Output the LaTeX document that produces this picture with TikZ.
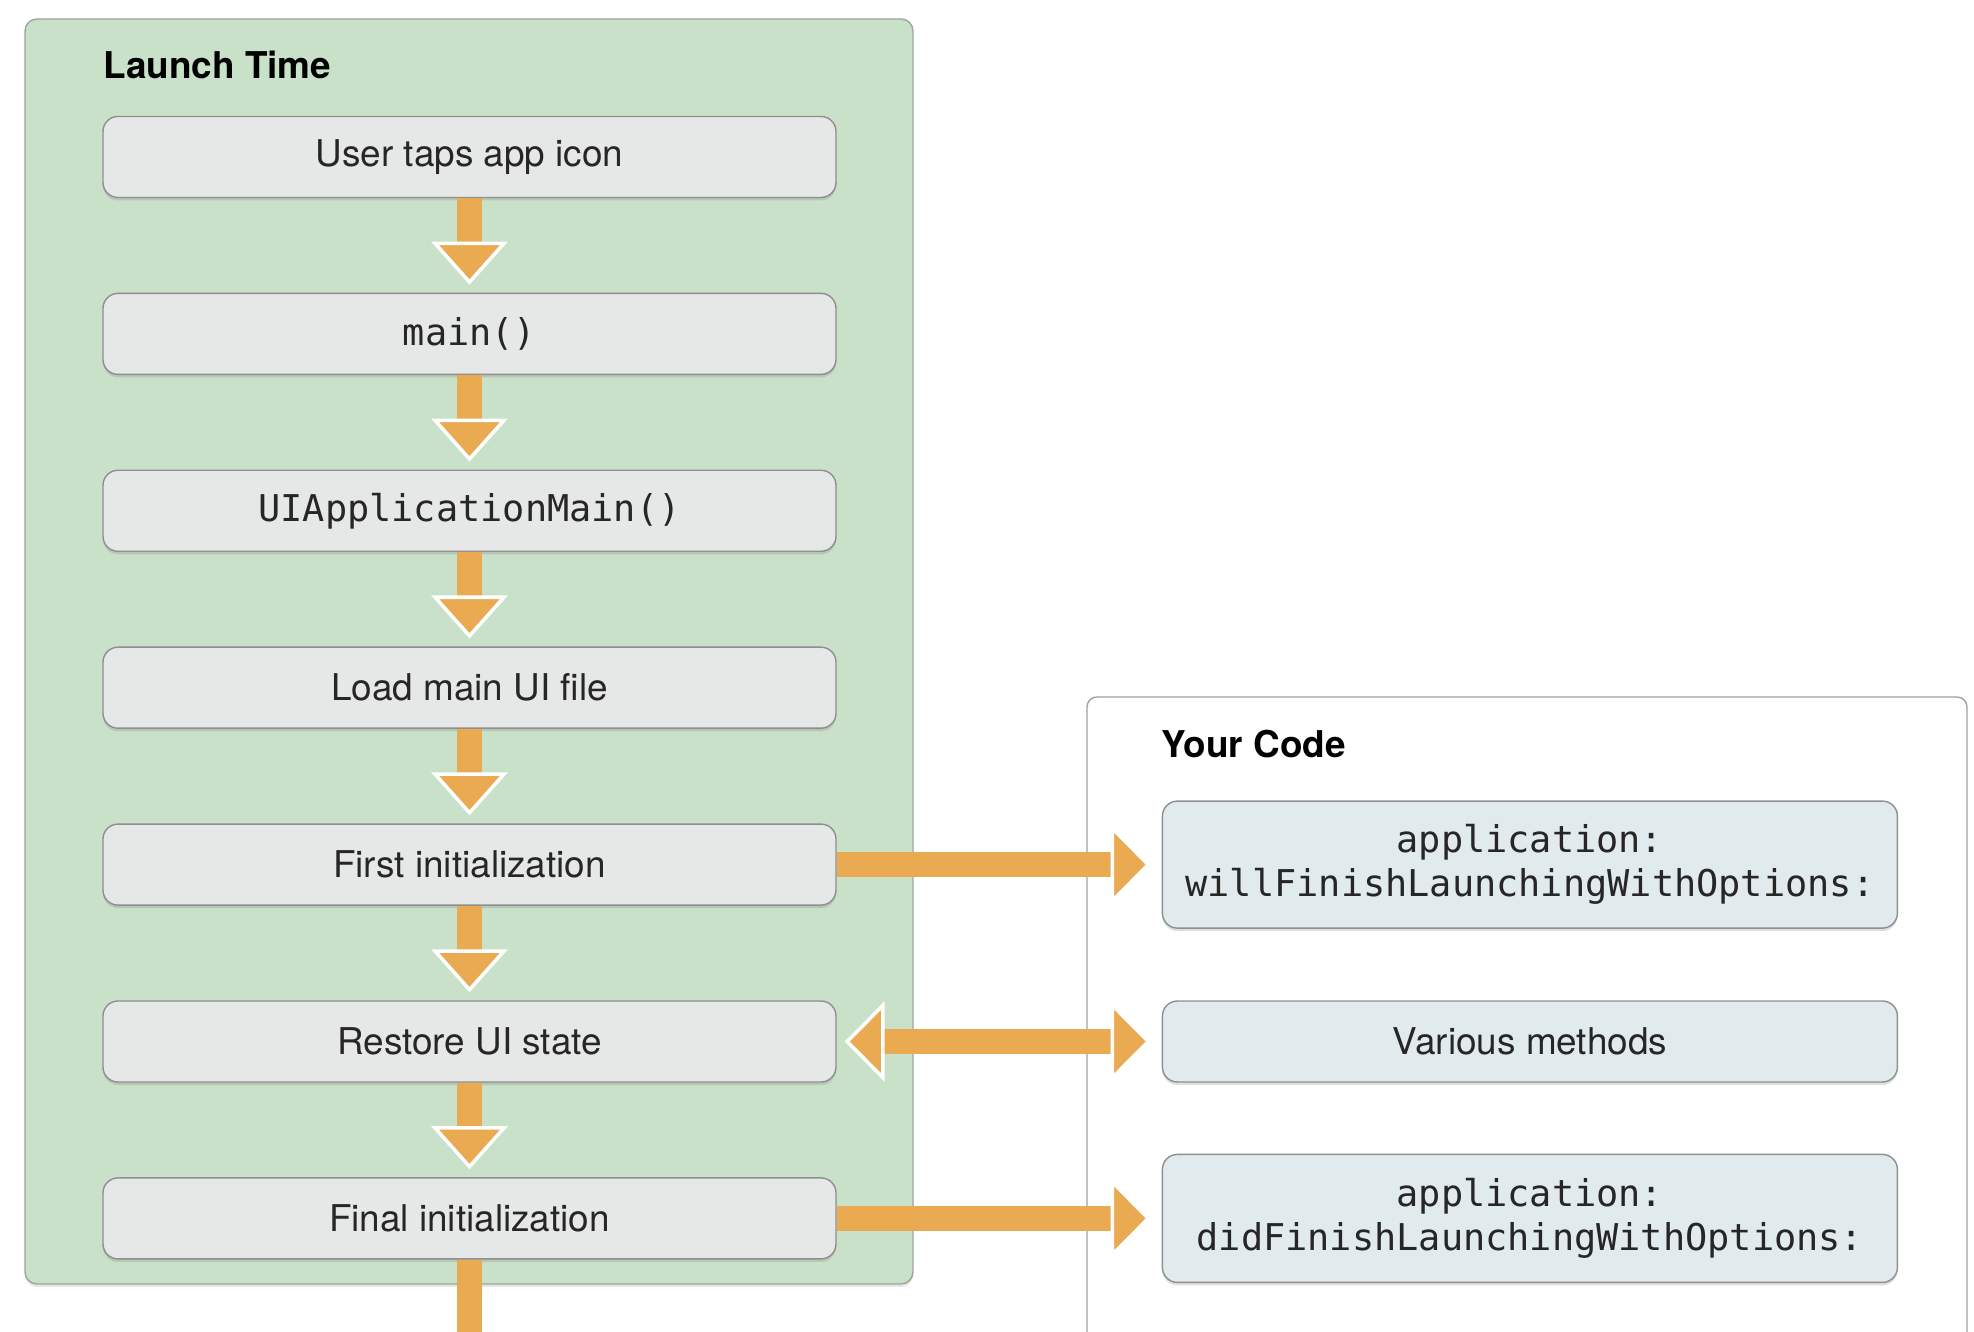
\documentclass[tikz,border=0pt]{standalone}
\usepackage{fontspec}
\setmainfont{TeX Gyre Heros}
\newfontfamily\codefont{DejaVu Sans Mono}
\usetikzlibrary{arrows.meta,positioning,shadows}
\definecolor{launchgreen}{HTML}{C8E1C8}
\definecolor{greenedge}{HTML}{9AA79A}
\definecolor{stepgray}{HTML}{E6E7E7}
\definecolor{codeblue}{HTML}{E1EAEC}
\definecolor{edgegray}{HTML}{8F8F8F}
\definecolor{panelgray}{HTML}{A0A0A0}
\definecolor{flowc}{HTML}{EAAA52}
\tikzset{
	stepbox/.style={draw=edgegray, fill=stepgray, rounded corners=0.15cm,
		minimum width=7.33cm, minimum height=0.81cm, inner sep=0pt,
		text=black!85, font=\fontsize{10.5}{12.5}\selectfont,
		drop shadow={shadow xshift=0cm, shadow yshift=-0.03cm, opacity=0.25}},
	codebox/.style={stepbox, fill=codeblue, minimum width=7.35cm, align=center},
	monotext/.style={font=\codefont\fontsize{10.5}{12.5}\selectfont},
	title/.style={anchor=west, inner sep=0pt, font=\fontsize{10.5}{12.5}\selectfont\bfseries},
	flowhead/.tip={Triangle[width=0.76cm, length=0.43cm, color=white, fill=flowc, line width=1pt]},
	sidehead/.tip={Triangle[width=0.80cm, length=0.40cm, color=white, fill=flowc, line width=1pt]},
	flow/.style={draw=flowc, line width=0.25cm, -flowhead, shorten >=0.08cm},
	sideflow/.style={draw=flowc, line width=0.25cm, -sidehead, shorten >=0.11cm},
}
\begin{document}
\begin{tikzpicture}
		%%%%% FRAME %%%%%
		\useasboundingbox (0, 0) rectangle (19.74, 13.32);
		
		\draw[draw=greenedge, fill=launchgreen, rounded corners=0.12cm,
			drop shadow={shadow xshift=0cm, shadow yshift=-0.03cm, opacity=0.2}] (0.25, 0.48) rectangle (9.13, 13.13);
		\node[title] (launchlabel) at (1.03, 12.67) {Launch Time};
		
		\draw[draw=panelgray, rounded corners=0.1cm] (10.87, -0.3) -- (10.87, 6.35) -- (19.67, 6.35) -- (19.67, -0.3);
		\node[title] (codelabel) at (11.61, 5.88) {Your Code};
		
		%%%%% STEPS %%%%%
		\node[stepbox] (tap) at (4.695, 11.75) {User taps app icon};
		\node[stepbox, monotext, below=0.945cm of tap] (main) {main()};
		\node[stepbox, monotext, below=0.945cm of main] (uimain) {UIApplicationMain()};
		\node[stepbox, below=0.945cm of uimain] (loadui) {Load main UI file};
		\node[stepbox, below=0.945cm of loadui] (firstinit) {First initialization};
		\node[stepbox, below=0.945cm of firstinit] (restore) {Restore UI state};
		\node[stepbox, below=0.945cm of restore] (finalinit) {Final initialization};
		
		\node[codebox, monotext, minimum height=1.27cm, right=3.25cm of firstinit] (willfinish) {application:\\willFinishLaunchingWithOptions:};
		\node[codebox, right=3.25cm of restore] (various) {Various methods};
		\node[codebox, monotext, minimum height=1.28cm, right=3.25cm of finalinit] (didfinish) {application:\\didFinishLaunchingWithOptions:};
		
		%%%%% ARROWS %%%%%
		\foreach \a/\b in {tap/main, main/uimain, uimain/loadui, loadui/firstinit, firstinit/restore, restore/finalinit}
			\draw[flow] (\a) -- (\b);
		\coordinate (exit) at (finalinit.south |- 0, 0);
		\draw[draw=flowc, line width=0.25cm] (finalinit) -- (exit);
		
		\draw[sideflow] (firstinit) -- (willfinish);
		\draw[sideflow, arrows=sidehead-sidehead, shorten <=0.08cm] (restore) -- (various);
		\draw[sideflow] (finalinit) -- (didfinish);
		%%%%% END %%%%%
\end{tikzpicture}
\end{document}
